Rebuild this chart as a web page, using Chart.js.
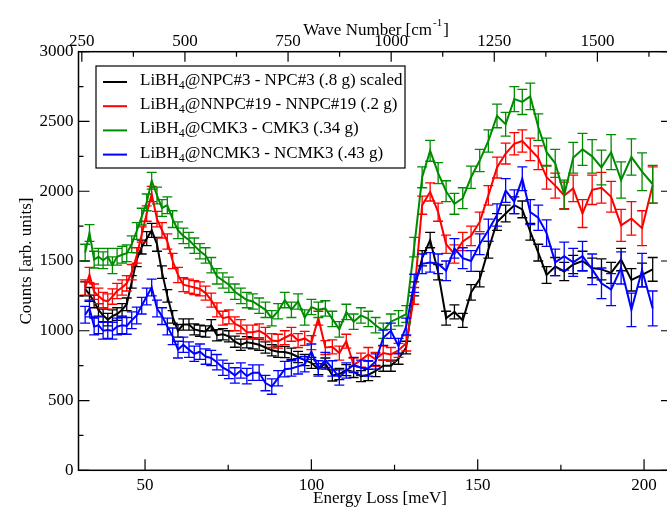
<!DOCTYPE html>
<html>
<head>
<meta charset="utf-8">
<title>LiBH4 difference spectra</title>
<script src="https://cdn.jsdelivr.net/npm/chart.js@4.4.1/dist/chart.umd.min.js"></script>
<style>
  html, body { margin: 0; padding: 0; background: #fff; overflow: hidden; }
</style>
</head>
<body>
<canvas id="spectra" width="672" height="507"></canvas>
<script>
// energy transfer grid [meV], shared by the four difference spectra
const energy = [
  32.0, 33.3, 34.7, 36.0, 37.4, 38.8, 40.2, 41.6, 43.1, 44.5,
  46.0, 47.5, 49.0, 50.5, 52.0, 53.6, 55.1, 56.7, 58.3, 59.9,
  61.5, 63.2, 64.8, 66.5, 68.2, 69.9, 71.6, 73.4, 75.2, 77.0,
  78.8, 80.6, 82.4, 84.3, 86.2, 88.1, 90.0, 92.0, 94.0, 96.0,
  98.0, 100.0, 102.1, 104.2, 106.3, 108.4, 110.5, 112.7, 114.9, 117.1,
  119.3, 121.6, 123.9, 126.2, 128.5, 130.9, 133.3, 135.7, 138.1, 140.5,
  143.0, 145.5, 148.0, 150.6, 153.2, 155.8, 158.4, 161.0, 163.4, 165.8,
  168.2, 170.7, 173.3, 176.0, 178.7, 181.5, 184.4, 187.2, 190.1, 193.1,
  196.2, 199.4, 202.6
];

// LiBH4@NPC#3 - NPC#3 (scaled)
const npc3 = [
  1300, 1260, 1210, 1150, 1110, 1080, 1105, 1120, 1150, 1190,
  1350, 1510, 1600, 1660, 1720, 1620, 1420, 1250, 1100, 1000,
  1045, 1045, 1010, 1000, 995, 1040, 968, 975, 960, 922,
  900, 918, 910, 900, 880, 860, 850, 848, 835, 812,
  790, 770, 725, 765, 680, 690, 718, 705, 675, 683,
  712, 750, 750, 800, 880, 1300, 1520, 1650, 1420, 1090,
  1135, 1075, 1275, 1370, 1580, 1780, 1840, 1900, 1870, 1710,
  1560, 1400, 1460, 1425, 1475, 1500, 1450, 1440, 1415, 1510,
  1365, 1400, 1440
];
const npc3Err = [
  50, 50, 45, 45, 45, 45, 45, 45, 45, 45,
  45, 50, 50, 50, 50, 50, 45, 45, 45, 45,
  40, 40, 40, 40, 40, 40, 40, 40, 40, 40,
  40, 40, 40, 40, 40, 40, 40, 40, 40, 40,
  40, 40, 40, 40, 40, 40, 40, 40, 40, 40,
  40, 40, 40, 40, 45, 50, 55, 55, 55, 50,
  50, 50, 55, 55, 60, 60, 60, 60, 60, 60,
  60, 60, 65, 65, 65, 70, 70, 75, 75, 80,
  80, 85, 85
];

// LiBH4@NNPC#19 - NNPC#19
const nnpc19 = [
  1310, 1400, 1280, 1250, 1220, 1210, 1245, 1285, 1310, 1340,
  1420, 1540, 1690, 1840, 1980, 1800, 1720, 1640, 1500, 1400,
  1330, 1320, 1310, 1300, 1270, 1220, 1150, 1090, 1100, 1050,
  1030, 990, 990, 1000, 975, 930, 925, 950, 975, 930,
  945, 915, 1090, 880, 885, 840, 925, 755, 790, 830,
  795, 840, 830, 860, 910, 1250, 1900, 1995, 1850, 1620,
  1550, 1640, 1680, 1780, 1970, 2170, 2270, 2340, 2360, 2300,
  2240, 2100, 2040, 1970, 2020, 1840, 2010, 2025, 1960, 1755,
  1805, 1735, 2045
];
const nnpc19Err = [
  55, 55, 55, 55, 55, 55, 55, 55, 55, 55,
  55, 55, 55, 55, 55, 55, 55, 55, 55, 55,
  50, 50, 50, 50, 50, 50, 50, 50, 50, 50,
  50, 50, 50, 50, 50, 50, 50, 50, 50, 50,
  50, 50, 50, 50, 50, 50, 50, 50, 50, 50,
  50, 50, 50, 50, 55, 60, 65, 65, 65, 65,
  65, 65, 70, 70, 70, 75, 75, 80, 80, 80,
  85, 85, 90, 95, 95, 100, 105, 110, 110, 115,
  120, 125, 130
];

// LiBH4@CMK3 - CMK3
const cmk3 = [
  1560, 1700, 1510, 1530, 1505, 1530, 1470, 1530, 1545, 1556,
  1620, 1715, 1818, 1920, 2075, 1970, 1880, 1900, 1800, 1720,
  1680, 1650, 1610, 1570, 1540, 1470, 1390, 1360, 1330, 1280,
  1250, 1220, 1210, 1180, 1150, 1090, 1140, 1220, 1150, 1210,
  1095, 1170, 1150, 1160, 1085, 1010, 1135, 1065, 1110, 1085,
  1040, 1000, 1065, 1090, 1120, 1600, 2100, 2290, 2130, 2000,
  1910, 1950, 2100, 2220, 2360, 2540, 2480, 2660, 2640, 2680,
  2460, 2280, 2200, 1975, 2240, 2300, 2250, 2170, 2280, 2080,
  2245, 2140, 2050
];
const cmk3Err = [
  60, 60, 60, 60, 60, 60, 60, 60, 60, 60,
  60, 60, 60, 60, 60, 60, 60, 60, 60, 60,
  55, 55, 55, 55, 55, 55, 55, 55, 55, 55,
  55, 55, 55, 55, 55, 55, 55, 55, 55, 55,
  55, 55, 55, 55, 55, 55, 55, 55, 55, 55,
  55, 55, 55, 55, 60, 70, 75, 75, 75, 75,
  75, 75, 80, 80, 80, 85, 85, 90, 90, 95,
  95, 100, 100, 105, 110, 115, 120, 125, 125, 130,
  130, 135, 135
];

// LiBH4@NCMK3 - NCMK3
const ncmk3 = [
  1115, 1160, 1030, 1040, 1000, 1005, 1000, 1030, 1040, 1035,
  1075, 1110, 1180, 1245, 1310, 1160, 1105, 1030, 960, 865,
  900, 865, 835, 850, 815, 805, 775, 735, 712, 680,
  715, 675, 700, 700, 625, 600, 660, 725, 730, 745,
  760, 850, 730, 790, 730, 665, 715, 755, 735, 730,
  780, 950, 1000, 890, 1030, 1340, 1480, 1490, 1480, 1430,
  1590, 1520, 1500, 1620, 1720, 1830, 2005, 1925, 2090, 1850,
  1810, 1700, 1490, 1535, 1490, 1535, 1440, 1340, 1295, 1450,
  1150, 1435, 1160
];
const ncmk3Err = [
  60, 60, 60, 60, 60, 60, 60, 60, 60, 60,
  60, 60, 60, 60, 60, 60, 60, 60, 60, 60,
  55, 55, 55, 55, 55, 55, 55, 55, 55, 55,
  55, 55, 55, 55, 55, 55, 55, 55, 55, 55,
  55, 55, 55, 55, 55, 55, 55, 55, 55, 55,
  55, 55, 55, 55, 60, 65, 70, 70, 70, 70,
  70, 75, 75, 75, 80, 80, 85, 85, 85, 90,
  90, 95, 95, 100, 100, 105, 110, 110, 115, 115,
  120, 120, 125
];

const seriesLabels = [
  'LiBH4@NPC#3 - NPC#3 (.8 g) scaled',
  'LiBH4@NNPC#19 - NNPC#19 (.2 g)',
  'LiBH4@CMK3 - CMK3 (.34 g)',
  'LiBH4@NCMK3 - NCMK3 (.43 g)'
];
const seriesColors = ['#000000', '#ff0000', '#008b00', '#0000ff'];

// axis ticks
const energyTicks = [50, 100, 150, 200];
const energyMinor = [75, 125, 175];
const countTicks = [0, 500, 1000, 1500, 2000, 2500, 3000];
const countMinor = [250, 750, 1250, 1750, 2250, 2750];
const waveTicks = [250, 500, 750, 1000, 1250, 1500];
const waveMinor = [375, 625, 875, 1125, 1375, 1625];

const MEV_TO_CM = 8.0655;
const E_MIN = 30, E_MAX = 208.4;
const SERIF = '"Liberation Serif", "Times New Roman", serif';
const FONT_SIZE = 17;

function series(i, ys, errs, order) {
  return {
    label: seriesLabels[i],
    data: energy.map((e, k) => ({ x: e, y: ys[k], err: errs[k] })),
    borderColor: seriesColors[i],
    backgroundColor: seriesColors[i],
    borderWidth: 2,
    showLine: true,
    pointRadius: 0,
    order: order
  };
}

// vertical error bars with caps, drawn right after each dataset's line
const errorBars = {
  id: 'errorBars',
  afterDatasetDraw(chart, args) {
    const ds = chart.data.datasets[args.index];
    const xs = chart.scales.x, ys = chart.scales.y, a = chart.chartArea;
    const ctx = chart.ctx;
    ctx.save();
    ctx.beginPath();
    ctx.rect(a.left, a.top, a.right - a.left, a.bottom - a.top);
    ctx.clip();
    ctx.strokeStyle = ds.borderColor;
    ctx.lineWidth = 1.3;
    ctx.beginPath();
    ds.data.forEach(p => {
      const px = xs.getPixelForValue(p.x);
      const hi = ys.getPixelForValue(p.y + p.err);
      const lo = ys.getPixelForValue(p.y - p.err);
      ctx.moveTo(px, hi); ctx.lineTo(px, lo);
      ctx.moveTo(px - 5, hi); ctx.lineTo(px + 5, hi);
      ctx.moveTo(px - 5, lo); ctx.lineTo(px + 5, lo);
    });
    ctx.stroke();
    ctx.restore();
  }
};

// plot frame with inward major/minor tick marks
const frameTicks = {
  id: 'frameTicks',
  afterDatasetsDraw(chart) {
    const { ctx, chartArea: a } = chart;
    const xs = chart.scales.x, x2 = chart.scales.x2, ys = chart.scales.y;
    ctx.save();
    ctx.strokeStyle = '#000';
    ctx.lineWidth = 1.5;
    ctx.strokeRect(a.left, a.top, a.right - a.left, a.bottom - a.top);
    ctx.lineWidth = 1.2;
    ctx.beginPath();
    const vTick = (px, len) => {
      ctx.moveTo(px, a.bottom); ctx.lineTo(px, a.bottom - len);
    };
    energyTicks.forEach(v => vTick(xs.getPixelForValue(v), 11));
    energyMinor.forEach(v => vTick(xs.getPixelForValue(v), 5.5));
    const tTick = (px, len) => {
      ctx.moveTo(px, a.top); ctx.lineTo(px, a.top + len);
    };
    waveTicks.forEach(v => tTick(x2.getPixelForValue(v), 10));
    waveMinor.forEach(v => tTick(x2.getPixelForValue(v), 5));
    const hTick = (py, len) => {
      ctx.moveTo(a.left, py); ctx.lineTo(a.left + len, py);
      ctx.moveTo(a.right, py); ctx.lineTo(a.right - len, py);
    };
    countTicks.forEach(v => hTick(ys.getPixelForValue(v), 11));
    countMinor.forEach(v => hTick(ys.getPixelForValue(v), 5));
    ctx.stroke();
    ctx.restore();
  }
};

// draws "LiBH4..." with the 4 as a subscript, returns end x
function drawFormula(ctx, text, x, y, size) {
  const parts = text.split('LiBH4');
  ctx.font = size + 'px ' + SERIF;
  ctx.fillText('LiBH', x, y);
  x += ctx.measureText('LiBH').width;
  ctx.font = Math.round(size * 0.68) + 'px ' + SERIF;
  ctx.fillText('4', x, y + 4);
  x += ctx.measureText('4').width;
  ctx.font = size + 'px ' + SERIF;
  ctx.fillText(parts[1], x, y);
  return x + ctx.measureText(parts[1]).width;
}

// axis titles and legend box
const annotations = {
  id: 'annotations',
  afterDraw(chart) {
    const { ctx, chartArea: a } = chart;
    ctx.save();
    ctx.fillStyle = '#000';
    ctx.textBaseline = 'alphabetic';
    ctx.font = FONT_SIZE + 'px ' + SERIF;

    // bottom title
    ctx.textAlign = 'center';
    ctx.fillText('Energy Loss [meV]', 380, 503);

    // left title
    ctx.save();
    ctx.translate(31, (a.top + a.bottom) / 2);
    ctx.rotate(-Math.PI / 2);
    ctx.fillText('Counts [arb. units]', 0, 0);
    ctx.restore();

    // top title with superscript
    ctx.textAlign = 'left';
    const main = 'Wave Number [cm';
    const sup = '-1';
    const supFont = '11px ' + SERIF;
    const wMain = ctx.measureText(main).width;
    ctx.font = supFont;
    const wSup = ctx.measureText(sup).width;
    ctx.font = FONT_SIZE + 'px ' + SERIF;
    const wEnd = ctx.measureText(']').width;
    let tx = 376 - (wMain + wSup + wEnd + 2) / 2;
    ctx.fillText(main, tx, 35);
    tx += wMain + 1;
    ctx.font = supFont;
    ctx.fillText(sup, tx, 26);
    tx += wSup + 1;
    ctx.font = FONT_SIZE + 'px ' + SERIF;
    ctx.fillText(']', tx, 35);

    // legend
    const bx = a.left + 17.5, by = a.top + 14.3;
    ctx.fillStyle = '#fff';
    ctx.fillRect(bx, by, 309, 102);
    ctx.strokeStyle = '#000';
    ctx.lineWidth = 1.2;
    ctx.strokeRect(bx, by, 309, 102);
    chart.data.datasets.forEach((ds, i) => {
      const base = by + 19 + i * 24.2;
      ctx.strokeStyle = ds.borderColor;
      ctx.lineWidth = 2;
      ctx.beginPath();
      ctx.moveTo(bx + 7, base - 3);
      ctx.lineTo(bx + 31, base - 3);
      ctx.stroke();
      ctx.fillStyle = '#000';
      drawFormula(ctx, ds.label, bx + 44, base, FONT_SIZE);
    });
    ctx.restore();
  }
};

const tickFont = { family: SERIF, size: FONT_SIZE };
const plain = v => String(v);

new Chart(document.getElementById('spectra'), {
  type: 'scatter',
  data: {
    datasets: [
      series(0, npc3, npc3Err, 3),
      series(1, nnpc19, nnpc19Err, 2),
      series(2, cmk3, cmk3Err, 1),
      series(3, ncmk3, ncmk3Err, 0)
    ]
  },
  options: {
    responsive: false,
    animation: false,
    devicePixelRatio: 1,
    layout: { padding: 0 },
    plugins: { legend: { display: false }, tooltip: { enabled: false } },
    scales: {
      x: {
        type: 'linear', position: 'bottom', min: E_MIN, max: E_MAX,
        grid: { display: false, drawTicks: false }, border: { display: false },
        ticks: { font: tickFont, color: '#000', padding: 5, maxRotation: 0, callback: plain },
        afterBuildTicks: s => { s.ticks = energyTicks.map(v => ({ value: v })); },
        afterFit: s => { s.height = 36.7; }
      },
      x2: {
        type: 'linear', axis: 'x', position: 'top',
        min: E_MIN * MEV_TO_CM, max: E_MAX * MEV_TO_CM,
        grid: { display: false, drawTicks: false }, border: { display: false },
        ticks: { font: tickFont, color: '#000', padding: 0, maxRotation: 0, callback: plain },
        afterBuildTicks: s => { s.ticks = waveTicks.map(v => ({ value: v })); },
        afterFit: s => { s.height = 51.7; }
      },
      y: {
        type: 'linear', min: 0, max: 3000,
        grid: { display: false, drawTicks: false }, border: { display: false },
        ticks: { font: tickFont, color: '#000', padding: 5, callback: plain },
        afterBuildTicks: s => { s.ticks = countTicks.map(v => ({ value: v })); },
        afterFit: s => { s.width = 78.5; }
      }
    }
  },
  plugins: [errorBars, frameTicks, annotations]
});
</script>
</body>
</html>
